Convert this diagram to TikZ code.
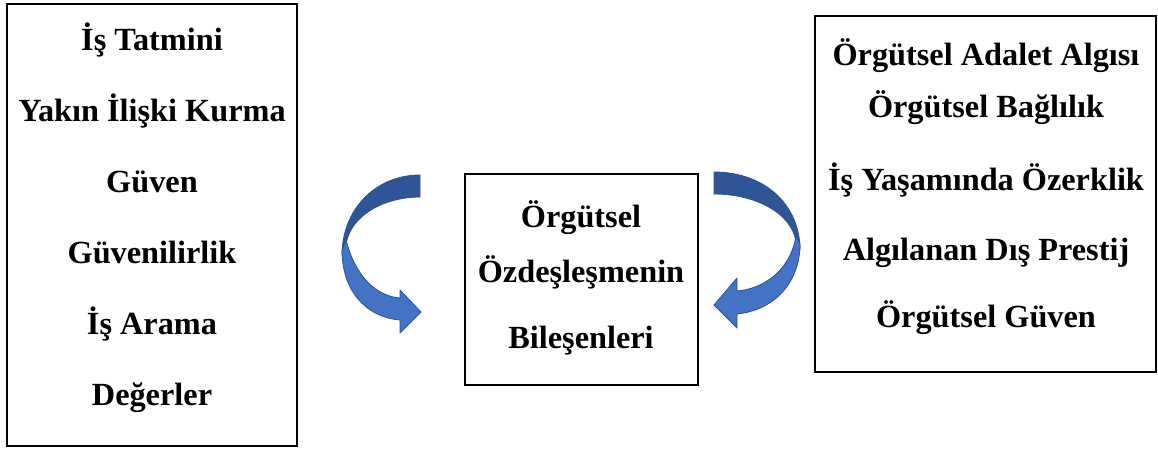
\documentclass[tikz,border=0pt]{standalone}
\usepackage{fontspec}
\setmainfont{Liberation Serif}
\begin{document}
\begin{tikzpicture}[x=1pt,y=-1pt,
  box/.style={draw=black,line width=1.8pt},
  lbl/.style={anchor=base,inner sep=0pt,font=\fontsize{32.3}{36}\selectfont\bfseries},
  darkpart/.style={fill=arrdark,draw=arredge,line width=0.8pt,line join=round},
  lightpart/.style={fill=arrlight,draw=arredge,line width=0.8pt,line join=round}]
\definecolor{arrdark}{HTML}{2F5597}
\definecolor{arrlight}{HTML}{4472C4}
\definecolor{arredge}{HTML}{2F528F}
\useasboundingbox (0,0) rectangle (1158,450);
% boxes
\draw[box] (7,4) rectangle (297,446);
\draw[box] (465,174) rectangle (698,385);
\draw[box] (815,16) rectangle (1156,372);
% left texts
\node[lbl] (l1) at (152,50.5) {İş Tatmini};
\node[lbl] (l2) at (152,121.5) {Yakın İlişki Kurma};
\node[lbl] (l3) at (152,192.5) {Güven};
\node[lbl] (l4) at (152,263.5) {Güvenilirlik};
\node[lbl] (l5) at (152,334.5) {İş Arama};
\node[lbl] (l6) at (152,405) {Değerler};
% middle texts
\node[lbl] (m1) at (581,227) {Örgütsel};
\node[lbl] (m2) at (581,282) {Özdeşleşmenin};
\node[lbl] (m3) at (581,348) {Bileşenleri};
% right texts
\node[lbl] (r1) at (986,65) {Örgütsel Adalet Algısı};
\node[lbl] (r2) at (986,117) {Örgütsel Bağlılık};
\node[lbl] (r3) at (986,190) {İş Yaşamında Özerklik};
\node[lbl] (r4) at (986,260) {Algılanan Dış Prestij};
\node[lbl] (r5) at (986,327) {Örgütsel Güven};
% left curved arrow
\draw[darkpart] (420,175) .. controls (375,175) and (342,210) .. (342,255)
  -- (346,245) .. controls (350,215) and (385,197) .. (420,197) -- cycle;
\draw[lightpart] (346,240) .. controls (355,275) and (375,296) .. (400,298)
  -- (400,290) -- (421,312) -- (400,333) -- (400,320)
  .. controls (365,317) and (342,290) .. (342,250) -- cycle;
% right curved arrow
\draw[darkpart] (714,172) .. controls (765,172) and (800,205) .. (800,250)
  -- (796,242) .. controls (792,213) and (755,194) .. (714,194) -- cycle;
\draw[lightpart] (796,236) .. controls (790,272) and (762,289) .. (737,291)
  -- (737,278) -- (714,305) -- (737,328) -- (737,314)
  .. controls (775,310) and (800,282) .. (800,244) -- cycle;
\end{tikzpicture}
\end{document}
